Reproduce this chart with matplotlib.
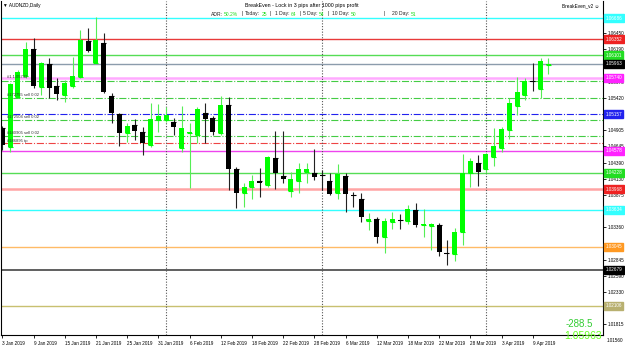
import matplotlib
matplotlib.use('Agg')
import matplotlib.pyplot as plt
import matplotlib.transforms as mtransforms

plt.rcParams['font.family'] = ['Liberation Sans', 'DejaVu Sans']

# ---------------- data ----------------
opens = [1.04935, 1.04632, 1.05438, 1.05767, 1.06192, 1.05597, 1.05958, 1.05608, 1.05465, 1.05608,
         1.05746, 1.06329, 1.05979, 1.06288, 1.05449, 1.05157, 1.04855, 1.04987, 1.04880, 1.04669,
         1.05067, 1.05067, 1.05035, 1.04626, 1.04855, 1.04828, 1.05183, 1.05098, 1.04855, 1.05305,
         1.04282, 1.03900, 1.04005, 1.04096, 1.04032, 1.04457, 1.04180, 1.03941, 1.04100, 1.04244,
         1.04218, 1.04199, 1.04088, 1.03909, 1.04175, 1.03868, 1.03814, 1.03464, 1.03486, 1.03199,
         1.03448, 1.03475, 1.03459, 1.03634, 1.03390, 1.03384, 1.03390, 1.02954, 1.02933, 1.03279,
         1.04218, 1.04387, 1.04282, 1.04482, 1.04616, 1.04907, 1.05290, 1.05465, 1.05692, 1.05555,
         1.05937]
highs = [1.04971, 1.05656, 1.05863, 1.06308, 1.06367, 1.05995, 1.06049, 1.05730, 1.05704, 1.06074,
         1.06499, 1.06526, 1.06711, 1.06447, 1.05492, 1.05183, 1.05014, 1.05078, 1.04950, 1.05332,
         1.05321, 1.05274, 1.05094, 1.05290, 1.05014, 1.05269, 1.05342, 1.05130, 1.05449, 1.05428,
         1.04323, 1.04059, 1.04191, 1.04298, 1.04494, 1.04896, 1.04896, 1.04244, 1.04377, 1.04377,
         1.04600, 1.04271, 1.04218, 1.04366, 1.04218, 1.03925, 1.03900, 1.03581, 1.03527, 1.03502,
         1.03607, 1.03570, 1.03713, 1.03750, 1.03645, 1.03432, 1.03422, 1.03156, 1.03342, 1.04525,
         1.04457, 1.04514, 1.04546, 1.04934, 1.04960, 1.05412, 1.05746, 1.05740, 1.05969, 1.06049,
         1.06049]
lows = [1.04589, 1.04557, 1.05417, 1.05730, 1.05576, 1.05465, 1.05412, 1.05385, 1.05358, 1.05576,
        1.05735, 1.06154, 1.05974, 1.05492, 1.05014, 1.04653, 1.04721, 1.04748, 1.04509, 1.04642,
        1.04880, 1.05035, 1.04828, 1.04562, 1.03989, 1.04696, 1.04696, 1.04828, 1.04828, 1.03952,
        1.03670, 1.03686, 1.03804, 1.03846, 1.04005, 1.03963, 1.04059, 1.03846, 1.03900, 1.04059,
        1.04111, 1.03952, 1.03873, 1.03804, 1.03597, 1.03686, 1.03448, 1.03315, 1.03104, 1.02944,
        1.03326, 1.03326, 1.03411, 1.03358, 1.03209, 1.02997, 1.02901, 1.02758, 1.02827, 1.03077,
        1.04005, 1.04008, 1.04218, 1.04334, 1.04562, 1.04764, 1.05146, 1.05385, 1.05533, 1.05412,
        1.05799]
closes = [1.04669, 1.05640, 1.05836, 1.06192, 1.05608, 1.05969, 1.05571, 1.05481, 1.05651, 1.05767,
          1.06340, 1.06170, 1.06340, 1.05517, 1.05183, 1.04864, 1.04971, 1.04891, 1.04696, 1.05087,
          1.05135, 1.05146, 1.04950, 1.04944, 1.04880, 1.05237, 1.05087, 1.04880, 1.05305, 1.04282,
          1.03900, 1.03995, 1.04096, 1.04059, 1.04473, 1.04228, 1.04123, 1.04123, 1.04282, 1.04282,
          1.04154, 1.04170, 1.03881, 1.04207, 1.03889, 1.03852, 1.03518, 1.03491, 1.03199, 1.03454,
          1.03491, 1.03464, 1.03645, 1.03400, 1.03411, 1.03411, 1.02970, 1.02933, 1.03279, 1.04218,
          1.04414, 1.04231, 1.04521, 1.04653, 1.04923, 1.05342, 1.05508, 1.05688, 1.05672, 1.06006,
          1.05963]

date_tick_bars = [0, 4, 8, 12, 16, 20, 24, 28, 32, 36, 40, 44, 48, 52, 56, 60, 64, 68]
date_tick_labels = ['3 Jan 2019', '9 Jan 2019', '15 Jan 2019', '21 Jan 2019', '25 Jan 2019',
                    '31 Jan 2019', '6 Feb 2019', '12 Feb 2019', '18 Feb 2019', '22 Feb 2019',
                    '28 Feb 2019', '6 Mar 2019', '12 Mar 2019', '18 Mar 2019', '22 Mar 2019',
                    '28 Mar 2019', '3 Apr 2019', '9 Apr 2019']
month_start_bars = [21, 41, 62]

price_ticks = [1.06450, 1.06190, 1.05935, 1.05675, 1.05420, 1.05160, 1.04905, 1.04645, 1.04390,
               1.04130, 1.03875, 1.03615, 1.03360, 1.03100, 1.02845, 1.02590, 1.02330, 1.02075,
               1.01815]
bottom_price_label = 1.01560

# horizontal level lines: price, colour, style, width
level_prices = [1.06686, 1.06352, 1.06101, 1.05963, 1.05740, 1.05688, 1.05412, 1.05157, 1.05067,
                1.04812, 1.04696, 1.04578, 1.04228, 1.03968, 1.03634, 1.03045, 1.02679, 1.02106]
level_colors = ['#33ffff', '#e83a3a', '#55dd55', '#8c9cac', '#ffaaff', '#44cc44', '#44cc44',
                '#2222ee', '#44cc44', '#44cc44', '#ee4444', '#ee44ee', '#55dd55', '#ffa4a4',
                '#33ffff', '#ffbb66', '#444444', '#c8c070']
level_styles = ['-', '-', '-', '-', '-', 'dashdot', 'dashdot', 'dashdot', 'dashdot', 'dashdot',
                'dashdot', '-', '-', '-', '-', '-', '-', '-']
level_widths = [1.0, 1.0, 1.0, 1.0, 1.8, 0.8, 0.8, 0.8, 0.8, 0.8, 0.8, 1.0, 1.0, 1.8, 1.0, 1.0, 1.2, 1.0]

# coloured price boxes on the right scale
box_prices = [1.06686, 1.06352, 1.06101, 1.05963, 1.05740, 1.05157, 1.04578, 1.04228, 1.03968,
              1.03634, 1.03045, 1.02679, 1.02106]
box_colors = ['#33ffff', '#ee2222', '#22dd22', '#000000', '#ff22ff', '#2222ee', '#ff22ff',
              '#22dd22', '#ee2222', '#33ffff', '#ff9922', '#000000', '#b8b070']

order_texts = ['#1 1.05742', '#172755 sell 0.02', '#172504 sell 0.02', '#140905 sell 0.02', '#186895 tp']
order_prices = [1.05750, 1.05470, 1.05120, 1.04860, 1.04735]

adr_texts = ['ADR:', '50.2%', '|', 'Today:', '25', '|', '1 Day:', '64', '|', '5 Day:', '54',
             '|', '10 Day:', '50', '|', '20 Day:', '51']
adr_green = [False, True, False, False, True, False, False, True, False, False, True,
             False, False, True, False, False, True]
adr_x = [211, 224, 241, 245, 261.5, 270, 275, 291, 300, 303, 319, 328, 332, 351, 383, 392, 411]

profit_text = '-288.5'
price_text = '1.05963'

# ---------------- figure ----------------
W, H = 625, 352
fig = plt.figure(figsize=(W / 100, H / 100), dpi=100)
fig.patch.set_facecolor('white')

px = lambda x: x / W
py = lambda y: 1 - y / H

ax = fig.add_axes([px(1), py(335), px(602), (335 - 1) / H])
ax.set_facecolor('white')
n = len(opens)
ax.set_xlim(-0.17, 77.0)
ax.set_ylim(1.01644, 1.06961)

# level lines
for p, c, s, w in zip(level_prices, level_colors, level_styles, level_widths):
    ax.axhline(p, color=c, linestyle=s, linewidth=w, zorder=1)

# month separators
for b in month_start_bars:
    ax.axvline(b - 0.05, color='#555555', linestyle=(0, (1, 1.5)), linewidth=0.8, zorder=1)

# candles
for i in range(n):
    o, h, l, c = opens[i], highs[i], lows[i], closes[i]
    up = c >= o
    col = '#00ff00' if up else '#000000'
    wick = '#55ee55' if up else '#222222'
    ax.vlines(i, l, h, color=wick, linewidth=0.8, zorder=3)
    ax.bar(i, c - o, bottom=o, width=0.64, color=col, edgecolor='none', zorder=4)
    ax.hlines(o, i - 0.32, i + 0.32, color=col, linewidth=0.8, zorder=4)

# order labels on left
for t, p in zip(order_texts, order_prices):
    ax.text(0.6, p, t, fontsize=3.0, color='#333333', va='center', ha='left', zorder=5)

# axes styling
ax.spines['top'].set_visible(False)
for s in ['left', 'right', 'bottom']:
    ax.spines[s].set_color('black')
    ax.spines[s].set_linewidth(0.8)

ylo, yhi = ax.get_ylim()
vis_ticks = [p for p in price_ticks if ylo < p < yhi]
ax.yaxis.tick_right()
ax.set_yticks(vis_ticks)
# labels hidden behind a coloured price box are left blank, as on the reference
ax.set_yticklabels(['' if min(abs(p - b) for b in box_prices) < 0.0006 else f'{p:.5f}'
                    for p in vis_ticks])
ax.tick_params(axis='y', length=2, width=0.6, pad=1.5, labelsize=3.3, colors='black')
btrans = mtransforms.blended_transform_factory(ax.transAxes, ax.transData)
ax.text(1.006, bottom_price_label, f'{bottom_price_label:.5f}', transform=btrans,
        fontsize=3.3, va='center', ha='left', clip_on=False)

ax.set_xticks(date_tick_bars)
ax.set_xticklabels(date_tick_labels, ha='left')
ax.tick_params(axis='x', length=2, width=0.6, pad=2.5, labelsize=3.3)

for p, c in zip(box_prices, box_colors):
    ax.text(1.004, p, f'{p:.5f}', transform=btrans, fontsize=3.3, color='white',
            va='center', ha='left', clip_on=False, zorder=10,
            bbox=dict(boxstyle='square,pad=0.3', facecolor=c, edgecolor=c))

# top texts
fig.text(px(3), py(5.5), '\u25BC AUDNZD,Daily', fontsize=3.4, va='center', ha='left', color='black')
fig.text(px(302), py(5.5), 'BreakEven - Lock in 3 pips after 1000 pips profit', fontsize=3.8,
         va='center', ha='center', color='black')
fig.text(px(599), py(5.5), 'BreakEven_v2 \u263A', fontsize=3.4, va='center', ha='right', color='black')

for t, g, x in zip(adr_texts, adr_green, adr_x):
    fig.text(px(x), py(14), t, fontsize=3.6, va='center', ha='left',
             color=('#22dd22' if g else '#222222'))

fig.text(px(593), py(324), profit_text, fontsize=7, va='center', ha='right', color='#33cc33')
fig.text(px(602), py(336), price_text, fontsize=7.5, va='center', ha='right', color='#66ff22')

fig.savefig('out.png', dpi=100)
